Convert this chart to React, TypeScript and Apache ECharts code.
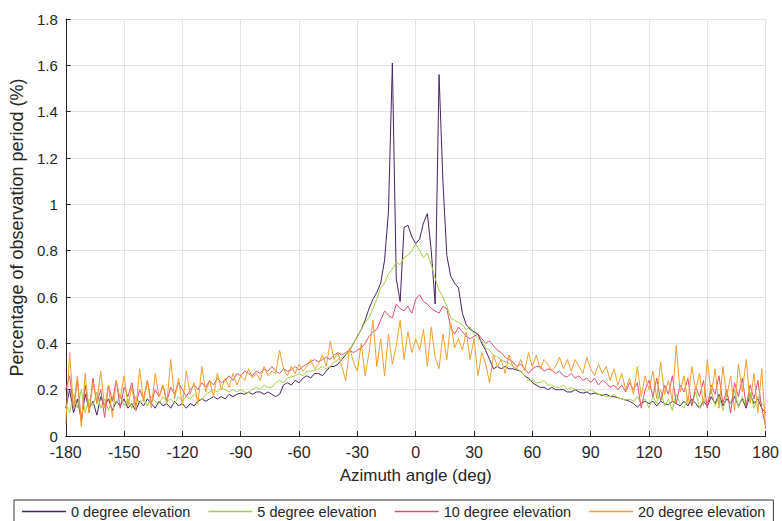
import React, { useEffect, useRef } from "react";
import * as echarts from "echarts";

// Azimuth sampling grid (deg), -180 .. 180 every 2 degrees
const AZIMUTH_STEP = 2;
const azimuth: number[] = Array.from({ length: 181 }, (_, i) => -180 + i * AZIMUTH_STEP);

const xTicks = { min: -180, max: 180, interval: 30 };
const yTicks = { min: 0, max: 1.8, interval: 0.2 };

const seriesNames = [
  "0 degree elevation",
  "5 degree elevation",
  "10 degree elevation",
  "20 degree elevation",
];

// Percentage of observation period (%) per azimuth bin
const elev0: number[] = [
  0.12, 0.2, 0.1, 0.16, 0.07, 0.18, 0.12, 0.15, 0.09, 0.17,
  0.13, 0.16, 0.11, 0.15, 0.13, 0.16, 0.12, 0.14, 0.11, 0.15,
  0.13, 0.16, 0.14, 0.12, 0.15, 0.13, 0.14, 0.12, 0.15, 0.13,
  0.14, 0.12, 0.14, 0.13, 0.15, 0.16, 0.15, 0.16, 0.17, 0.16,
  0.17, 0.16, 0.18, 0.17, 0.18, 0.185, 0.18, 0.19, 0.18, 0.19,
  0.19, 0.18, 0.19, 0.18, 0.17, 0.18, 0.22, 0.23, 0.22, 0.24,
  0.23, 0.25, 0.26, 0.25, 0.27, 0.27, 0.26, 0.28, 0.3, 0.3,
  0.31, 0.33, 0.35, 0.37, 0.4, 0.43, 0.46, 0.5, 0.55, 0.59,
  0.62, 0.66, 0.76, 0.97, 1.61, 0.68, 0.58, 0.9, 0.91, 0.86,
  0.83, 0.85, 0.92, 0.96, 0.8, 0.57, 1.56, 1.1, 0.78, 0.69,
  0.66, 0.64, 0.53, 0.48, 0.46, 0.45, 0.44, 0.4, 0.37, 0.33,
  0.29, 0.3, 0.29, 0.3, 0.29, 0.29, 0.285, 0.28, 0.26, 0.25,
  0.23, 0.22, 0.21, 0.21, 0.2, 0.21, 0.2, 0.2, 0.2, 0.19,
  0.19, 0.2, 0.19, 0.185, 0.19, 0.18, 0.185, 0.18, 0.175, 0.18,
  0.17, 0.17, 0.165, 0.16, 0.155, 0.15, 0.14, 0.125, 0.14, 0.15,
  0.14, 0.15, 0.13, 0.15, 0.14, 0.135, 0.15, 0.14, 0.13, 0.15,
  0.13, 0.16, 0.14, 0.12, 0.15, 0.13, 0.17, 0.14, 0.18, 0.13,
  0.16, 0.14, 0.17, 0.13, 0.16, 0.12, 0.18, 0.14, 0.16, 0.12,
  0.1,
];

const elev5: number[] = [
  0.14, 0.1, 0.18, 0.12, 0.2, 0.1, 0.16, 0.13, 0.19, 0.12,
  0.16, 0.11, 0.17, 0.14, 0.18, 0.13, 0.16, 0.12, 0.17, 0.14,
  0.16, 0.13, 0.17, 0.15, 0.14, 0.17, 0.15, 0.16, 0.14, 0.17,
  0.15, 0.17, 0.16, 0.18, 0.16, 0.155, 0.18, 0.19, 0.2, 0.19,
  0.205, 0.2, 0.19, 0.2, 0.19, 0.2, 0.19, 0.185, 0.2, 0.21,
  0.2, 0.22, 0.21, 0.21, 0.23, 0.24, 0.23, 0.25, 0.255, 0.26,
  0.27, 0.26, 0.28, 0.28, 0.285, 0.29, 0.3, 0.29, 0.3, 0.32,
  0.33, 0.34, 0.35, 0.37, 0.4, 0.43, 0.46, 0.49, 0.51, 0.55,
  0.59, 0.64, 0.66, 0.7, 0.72, 0.75, 0.74, 0.77, 0.78, 0.8,
  0.83, 0.8, 0.77, 0.79, 0.74, 0.68, 0.63, 0.6, 0.56, 0.51,
  0.5, 0.49, 0.48, 0.46, 0.47, 0.44, 0.42, 0.41, 0.38, 0.37,
  0.35, 0.34, 0.33, 0.32, 0.315, 0.3, 0.29, 0.28, 0.26, 0.24,
  0.24, 0.23, 0.23, 0.24, 0.22, 0.22, 0.21, 0.21, 0.22, 0.2,
  0.21, 0.2, 0.2, 0.2, 0.19, 0.2, 0.19, 0.18, 0.18, 0.17,
  0.17, 0.18, 0.165, 0.16, 0.155, 0.16, 0.15, 0.17, 0.14, 0.16,
  0.12, 0.17, 0.14, 0.2, 0.13, 0.16, 0.11, 0.18, 0.14, 0.12,
  0.17, 0.13, 0.19, 0.12, 0.16, 0.14, 0.2, 0.13, 0.17, 0.11,
  0.18, 0.14, 0.2, 0.12, 0.17, 0.13, 0.19, 0.12, 0.17, 0.14,
  0.12,
];

const elev10: number[] = [
  0.2, 0.26, 0.12, 0.24, 0.06, 0.22, 0.1, 0.25, 0.14, 0.2,
  0.08, 0.22, 0.15, 0.24, 0.12, 0.21, 0.17, 0.23, 0.13, 0.2,
  0.16, 0.24, 0.14, 0.2, 0.17, 0.22, 0.15, 0.21, 0.18, 0.23,
  0.2, 0.17, 0.2, 0.22, 0.2, 0.23, 0.21, 0.24, 0.22, 0.25,
  0.23, 0.24, 0.26, 0.24, 0.27, 0.26, 0.28, 0.27, 0.26, 0.28,
  0.27, 0.29, 0.28, 0.3, 0.28, 0.27, 0.29, 0.28, 0.285, 0.3,
  0.285, 0.3, 0.31, 0.32, 0.33, 0.32, 0.33, 0.34, 0.33, 0.35,
  0.36, 0.35, 0.36, 0.37, 0.36, 0.37, 0.38, 0.4, 0.43, 0.45,
  0.46, 0.5, 0.54, 0.52, 0.51, 0.57, 0.55, 0.54, 0.56, 0.53,
  0.59, 0.61, 0.58, 0.57, 0.55, 0.54, 0.53, 0.56, 0.55, 0.47,
  0.44, 0.47, 0.45, 0.43, 0.42, 0.43, 0.44, 0.42, 0.4, 0.41,
  0.39, 0.37, 0.36, 0.34, 0.33, 0.32, 0.3, 0.31, 0.29, 0.27,
  0.29, 0.3, 0.3, 0.28, 0.29, 0.285, 0.27, 0.28, 0.26, 0.255,
  0.27, 0.25, 0.26, 0.24, 0.25, 0.23, 0.25, 0.22, 0.24, 0.23,
  0.21, 0.22, 0.2, 0.22, 0.19, 0.23, 0.2, 0.23, 0.12, 0.2,
  0.24, 0.17, 0.25, 0.15, 0.22, 0.18, 0.26, 0.14, 0.22, 0.19,
  0.25, 0.13, 0.21, 0.17, 0.24, 0.12, 0.22, 0.18, 0.26, 0.14,
  0.2, 0.1, 0.23, 0.17, 0.25, 0.13, 0.22, 0.16, 0.24, 0.12,
  0.04,
];

const elev20: number[] = [
  0.05, 0.36, 0.12, 0.26, 0.04, 0.27, 0.1, 0.23, 0.14, 0.28,
  0.12, 0.22, 0.08, 0.24, 0.16, 0.26, 0.13, 0.21, 0.11, 0.29,
  0.15, 0.24, 0.12, 0.27, 0.17, 0.22, 0.14, 0.33, 0.16, 0.25,
  0.13, 0.28, 0.18, 0.23, 0.14, 0.3, 0.19, 0.24, 0.17, 0.27,
  0.2, 0.25, 0.21, 0.27, 0.22, 0.26, 0.24, 0.29, 0.25, 0.27,
  0.24, 0.3, 0.26, 0.28, 0.27, 0.37, 0.29, 0.26, 0.3, 0.27,
  0.31, 0.28, 0.3, 0.33, 0.29, 0.31, 0.35, 0.3, 0.41, 0.33,
  0.36, 0.3, 0.24, 0.38, 0.32, 0.28, 0.4, 0.26, 0.36, 0.5,
  0.3, 0.42, 0.26, 0.44, 0.31, 0.39, 0.5, 0.33, 0.45, 0.36,
  0.42, 0.37, 0.46, 0.3, 0.47, 0.34, 0.29, 0.44, 0.33, 0.49,
  0.38, 0.42, 0.37, 0.45, 0.33, 0.42, 0.26, 0.36, 0.31, 0.23,
  0.35, 0.3, 0.33, 0.27, 0.35, 0.3, 0.29, 0.33, 0.28, 0.36,
  0.3, 0.35, 0.29, 0.33, 0.31, 0.28, 0.3, 0.34, 0.29, 0.33,
  0.28, 0.33, 0.3, 0.27, 0.34, 0.29, 0.26, 0.31, 0.27, 0.3,
  0.24, 0.29, 0.22, 0.27, 0.2, 0.25, 0.18, 0.3, 0.17, 0.26,
  0.2, 0.28, 0.16, 0.32, 0.18, 0.24, 0.15, 0.39, 0.19, 0.26,
  0.14, 0.3, 0.2, 0.27, 0.13, 0.33, 0.18, 0.29, 0.12, 0.3,
  0.17, 0.26, 0.11, 0.31, 0.19, 0.33, 0.14, 0.27, 0.1, 0.29,
  0.03,
];

const seriesValues = [elev0, elev5, elev10, elev20];
const seriesColors = ["#4a2266", "#a2d13f", "#e2506e", "#f29f2d"];

const FONT = "'Liberation Sans', Arial, sans-serif";
const TEXT = "#262626";

export default function App() {
  const ref = useRef<HTMLDivElement>(null);

  useEffect(() => {
    if (!ref.current) return;
    const chart = echarts.init(ref.current, undefined, { renderer: "svg" });

    const series = seriesNames.map((name, k) => ({
      name,
      type: "line" as const,
      data: azimuth.map((a, i) => [a, seriesValues[k][i]]),
      showSymbol: false,
      symbol: "none",
      lineStyle: { width: 1, color: seriesColors[k] },
      itemStyle: { color: seriesColors[k] },
      z: 2 + k,
    }));

    chart.setOption({
      animation: false,
      backgroundColor: "#ffffff",
      textStyle: { fontFamily: FONT },
      grid: { left: 64, right: 14, top: 19, bottom: 85, containLabel: false },
      xAxis: {
        type: "value",
        min: xTicks.min,
        max: xTicks.max,
        interval: xTicks.interval,
        name: "Azimuth angle (deg)",
        nameLocation: "middle",
        nameGap: 31,
        nameTextStyle: { fontSize: 17, color: TEXT, fontFamily: FONT },
        axisLine: { onZero: false, lineStyle: { color: TEXT, width: 1 } },
        axisTick: { inside: true, length: 5, lineStyle: { color: TEXT } },
        axisLabel: { fontSize: 16, color: TEXT, margin: 8, fontFamily: FONT },
        splitLine: { show: true, lineStyle: { color: "#e3e3e3", width: 1 } },
      },
      yAxis: {
        type: "value",
        min: yTicks.min,
        max: yTicks.max,
        interval: yTicks.interval,
        name: "Percentage of observation period (%)",
        nameLocation: "middle",
        nameGap: 38,
        nameTextStyle: { fontSize: 18, color: TEXT, fontFamily: FONT },
        axisLine: { show: true, onZero: false, lineStyle: { color: TEXT, width: 1 } },
        axisTick: { show: true, inside: true, length: 5, lineStyle: { color: TEXT } },
        axisLabel: { fontSize: 15, color: TEXT, margin: 8, fontFamily: FONT },
        splitLine: { show: true, lineStyle: { color: "#e3e3e3", width: 1 } },
      },
      legend: {
        data: seriesNames,
        left: 14,
        top: 500,
        orient: "horizontal",
        icon: "rect",
        itemWidth: 44,
        itemHeight: 1.5,
        itemGap: 18,
        padding: [4, 8],
        borderColor: "#333333",
        borderWidth: 1,
        textStyle: { fontSize: 14.5, color: TEXT, fontFamily: FONT },
      },
      series,
    });

    return () => chart.dispose();
  }, []);

  return (
    <div
      ref={ref}
      style={{ position: "absolute", left: 0, top: 0, width: 782, height: 521, background: "#fff" }}
    />
  );
}
